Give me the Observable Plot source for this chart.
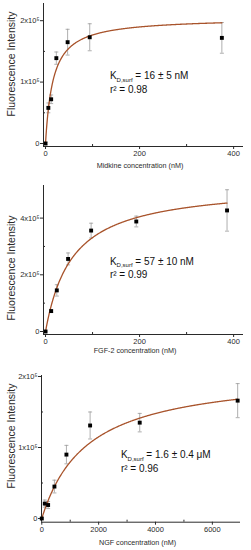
<!DOCTYPE html>
<html><head><meta charset="utf-8">
<script src="https://cdn.jsdelivr.net/npm/d3@7"></script>
<script src="https://cdn.jsdelivr.net/npm/@observablehq/plot@0.6"></script>
<style>
body{margin:0;background:#fff;}
#chart{width:251px;}
#chart svg{display:block;}
</style></head><body><div id="chart"></div>
<script>
// ---- Data ----
const midkineConc = [0, 6, 12, 23, 47, 94, 375];
const midkineIntensity = [0, 0.58e5, 0.72e5, 1.39e5, 1.65e5, 1.73e5, 1.72e5];
const midkineError = [0.02e5, 0.08e5, 0.07e5, 0.10e5, 0.21e5, 0.22e5, 0.25e5];

const fgfConc = [0, 12, 24, 48, 97, 193, 386];
const fgfIntensity = [0, 0.72e5, 1.45e5, 2.56e5, 3.56e5, 3.88e5, 4.27e5];
const fgfError = [0.02e5, 0.05e5, 0.20e5, 0.21e5, 0.26e5, 0.19e5, 0.73e5];

const ngfConc = [0, 105, 223, 445, 867, 1700, 3445, 6890];
const ngfIntensity = [0, 0.21e5, 0.19e5, 0.45e5, 0.90e5, 1.31e5, 1.35e5, 1.66e5];
const ngfError = [0.01e5, 0.05e5, 0.05e5, 0.09e5, 0.13e5, 0.19e5, 0.13e5, 0.24e5];

const fitKd = [16, 57, 1600];
const fitBmax = [2.05e5, 5.2e5, 2.07e5];

const xLabels = ["Midkine concentration (nM)", "FGF-2 concentration (nM)", "NGF concentration (nM)"];
const yLabel = "Fluorescence Intensity";
const kdTexts = ["= 16 \u00b1 5 nM", "= 57 \u00b1 10 nM", "= 1.6 \u00b1 0.4 \u03bcM"];
const r2Texts = ["r\u00b2 = 0.98", "r\u00b2 = 0.99", "r\u00b2 = 0.96"];

const xTicksNM = [0, 200, 400];
const xMinorNM = [100, 300];
const xTicksNGF = [0, 2000, 4000, 6000];
const xMinorNGF = [1000, 3000, 5000];
const yTicks1 = [0, 1e5, 2e5];
const yMinor1 = [0.5e5, 1.5e5];
const yTicks2 = [0, 2e5, 4e5];
const yMinor2 = [1e5, 3e5];

// ---- Rendering ----
const FONT = "'Liberation Sans', Arial, Helvetica, sans-serif";
const AXIS = "#2a2a2a";
const capSymbol = { draw(ctx, size) { const w = Math.sqrt(size / Math.PI); ctx.moveTo(-w, 0); ctx.lineTo(w, 0); } };
const fmtY = d => d === 0 ? "0" : `${d / 1e5}x10\u2075`;
const fmtX = d => String(d);

const panels = [
  { conc: midkineConc, inten: midkineIntensity, err: midkineError, kd: fitKd[0], bmax: fitBmax[0],
    xTicks: xTicksNM, xMinor: xMinorNM, yTicks: yTicks1, yMinor: yMinor1,
    height: 183, mt: 3, mb: 37, ml: 43, mr: 8, xDomain: [-4.3, 421], yDomain: [-0.049e5, 2.28e5],
    xLab: xLabels[0], xLabX: 140, xLabY: 168, yLabX: 12.5, yLabY: 64,
    kdText: kdTexts[0], r2Text: r2Texts[0], annX: 138, annY: 1.04e5 },
  { conc: fgfConc, inten: fgfIntensity, err: fgfError, kd: fitKd[1], bmax: fitBmax[1],
    xTicks: xTicksNM, xMinor: xMinorNM, yTicks: yTicks2, yMinor: yMinor2,
    height: 182, mt: 2, mb: 31, ml: 43, mr: 8, xDomain: [-4.3, 421], yDomain: [-0.106e5, 5.15e5],
    xLab: xLabels[1], xLabX: 135, xLabY: 170, yLabX: 12, yLabY: 85,
    kdText: kdTexts[1], r2Text: r2Texts[1], annX: 138, annY: 2.33e5 },
  { conc: ngfConc, inten: ngfIntensity, err: ngfError, kd: fitKd[2], bmax: fitBmax[2],
    xTicks: xTicksNGF, xMinor: xMinorNGF, yTicks: yTicks1, yMinor: yMinor1,
    height: 185, mt: 10, mb: 28.3, ml: 41, mr: 11, xDomain: [-10, 6990], yDomain: [-0.052e5, 2.014e5],
    xLab: xLabels[2], xLabX: 137.5, xLabY: 180, yLabX: 12, yLabY: 71,
    kdText: kdTexts[2], r2Text: r2Texts[2], annX: 2800, annY: 0.845e5 }
];

const container = document.getElementById("chart");
for (const p of panels) {
  const data = p.conc.map((c, i) => ({ x: c, y: p.inten[i], e: p.err[i] }));
  const xmax = d3.max(p.conc);
  const fit = d3.range(0, 401).map(i => { const x = xmax * i / 400; return { x, y: p.bmax * x / (p.kd + x) }; });
  const plot = Plot.plot({
    width: 251, height: p.height,
    marginTop: p.mt, marginBottom: p.mb, marginLeft: p.ml, marginRight: p.mr,
    style: { fontFamily: FONT, fontSize: "7.5px", background: "#fff", color: AXIS, overflow: "visible" },
    x: { domain: p.xDomain },
    y: { domain: p.yDomain },
    marks: [
      Plot.ruleX([p.xDomain[0]], { stroke: AXIS, strokeWidth: 1 }),
      Plot.ruleY([p.yDomain[0]], { stroke: AXIS, strokeWidth: 1 }),
      Plot.axisX(p.xTicks, { tickSize: 3, tickPadding: 1, tickFormat: fmtX, label: null, stroke: AXIS, fill: AXIS }),
      Plot.axisX(p.xMinor, { tickSize: -2, tickFormat: () => "", label: null, stroke: AXIS }),
      Plot.axisY(p.yTicks, { tickSize: 3, tickPadding: 1, tickFormat: fmtY, label: null, stroke: AXIS, fill: AXIS }),
      Plot.axisY(p.yMinor, { tickSize: -2, tickFormat: () => "", label: null, stroke: AXIS }),
      Plot.ruleX(data, { x: "x", y1: d => d.y - d.e, y2: d => d.y + d.e, stroke: "#9a9a9a", strokeWidth: 0.8 }),
      Plot.dot(data, { x: "x", y: d => d.y + d.e, symbol: capSymbol, r: 2, fill: "none", stroke: "#9a9a9a", strokeWidth: 0.8 }),
      Plot.dot(data, { x: "x", y: d => d.y - d.e, symbol: capSymbol, r: 2, fill: "none", stroke: "#9a9a9a", strokeWidth: 0.8 }),
      Plot.line(fit, { x: "x", y: "y", stroke: "#a8532b", strokeWidth: 1.3 }),
      Plot.dot(data, { x: "x", y: "y", symbol: "square", r: 2.2, fill: "#000", stroke: "none" })
    ]
  });
  container.appendChild(plot);
  const svg = d3.select(plot);
  const sx = plot.scale("x"), sy = plot.scale("y");
  // axis titles
  svg.append("text")
    .attr("x", p.xLabX).attr("y", p.xLabY)
    .attr("text-anchor", "middle").attr("font-size", "7.2px").attr("fill", AXIS)
    .attr("font-family", FONT).text(p.xLab);
  svg.append("text")
    .attr("transform", `translate(${p.yLabX},${p.yLabY}) rotate(-90)`)
    .attr("text-anchor", "middle").attr("dominant-baseline", "middle")
    .attr("font-size", "10.5px").attr("fill", AXIS).attr("font-family", FONT).text(yLabel);
  // fit annotation
  const ax = sx.apply(p.annX), ay = sy.apply(p.annY);
  const t = svg.append("text").attr("x", ax).attr("y", ay).attr("text-anchor", "start")
    .attr("font-size", "10px").attr("fill", "#111").attr("font-family", FONT);
  t.append("tspan").text("K");
  t.append("tspan").attr("font-size", "6px").attr("dy", 2.5).text("D,surf");
  t.append("tspan").attr("dy", -2.5).text(" " + p.kdText);
  svg.append("text").attr("x", ax).attr("y", ay + 13.5).attr("text-anchor", "start")
    .attr("font-size", "10px").attr("fill", "#111").attr("font-family", FONT).text(p.r2Text);
}
</script>
</body></html>
